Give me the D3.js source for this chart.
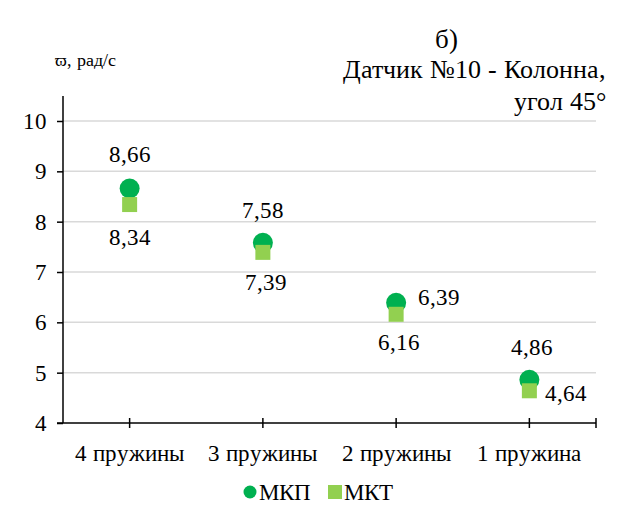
<!DOCTYPE html>
<html><head><meta charset="utf-8">
<script src="https://cdn.jsdelivr.net/npm/d3@7"></script>
<style>
@font-face{font-family:"ChartSerif";src:local("Liberation Serif"),local("LiberationSerif"),local("Tinos");}
</style>
</head><body style="margin:0;background:#fff"><svg id="c" width="617" height="509" style="display:block"></svg>
<script>
const categories = ["4 пружины","3 пружины","2 пружины","1 пружина"];
const mkp = [8.66, 7.58, 6.39, 4.86];
const mkt = [8.34, 7.39, 6.16, 4.64];
const yTicks = [4,5,6,7,8,9,10];
const seriesNames = ["МКП","МКТ"];
// label placement per point: [dx, dy baseline] relative to marker (layout only)
const mkpLab = [[0,-26],[0,-25],[43,2],[3,-25]];
const mktLab = [[0,40],[3,38],[3,36],[37,10]];

const svg = d3.select("#c");
const L=63, R=596, T=121, B=423;
const x = d3.scalePoint().domain(categories).range([L,R]).padding(0.5);
const y = d3.scaleLinear().domain([4,10]).range([B,T]);
const fmt = v => d3.format(".2f")(v).replace(".",",");
const FF = '"ChartSerif", "Liberation Serif", Tinos, serif';

function txt(parent, x0, y0, size, s, anchor){
  return parent.append("text").attr("x",x0).attr("y",y0).attr("font-size",size)
    .attr("text-anchor",anchor||"start").attr("font-family",FF).style("font-family",FF).attr("fill","#000").text(s);
}

// gridlines
svg.append("g").selectAll("line").data(yTicks.slice(1)).join("line")
  .attr("x1",L).attr("x2",R).attr("y1",d=>y(d)).attr("y2",d=>y(d))
  .attr("stroke","#d9d9d9").attr("stroke-width",1.5);

// y axis
const ya = svg.append("g").attr("transform",`translate(${L},0)`)
  .call(d3.axisLeft(y).tickValues(yTicks).tickSize(6).tickPadding(10).tickFormat(d3.format("d")));
ya.attr("font-family",FF);
ya.select(".domain").attr("stroke","#000").attr("stroke-width",1.5).attr("d",`M0,${T-25}V${B}`);
ya.selectAll(".tick line").attr("stroke","#000").attr("stroke-width",1.5);
ya.selectAll("text").attr("font-size",23).style("font-family",FF);

// x axis
const xa = svg.append("g").attr("transform",`translate(0,${B})`);
xa.append("line").attr("x1",L-6).attr("x2",R).attr("stroke","#000").attr("stroke-width",1.5);
const tickXs = categories.map(c=>x(c)).concat([R]);
xa.selectAll("line.t").data(tickXs).join("line").attr("class","t")
  .attr("x1",d=>d).attr("x2",d=>d).attr("y1",-5).attr("y2",5)
  .attr("stroke","#000").attr("stroke-width",1.5);
categories.forEach(c => txt(xa, x(c), 38, 23, c, "middle"));

// markers
svg.append("g").selectAll("circle").data(mkp).join("circle")
  .attr("cx",(d,i)=>x(categories[i])).attr("cy",d=>y(d)).attr("r",10).attr("fill","#00b050");
svg.append("g").selectAll("rect").data(mkt).join("rect")
  .attr("x",(d,i)=>x(categories[i])-7.5).attr("y",d=>y(d)-7.5).attr("width",15).attr("height",15).attr("fill","#92d050");

// labels
const lab = svg.append("g");
mkp.forEach((v,i)=>txt(lab, x(categories[i])+mkpLab[i][0], y(v)+mkpLab[i][1], 23, fmt(v), "middle"));
mkt.forEach((v,i)=>txt(lab, x(categories[i])+mktLab[i][0], y(v)+mktLab[i][1], 23, fmt(v), "middle"));

// titles
txt(svg, 446, 48, 27, "б)", "middle");
txt(svg, 606, 78, 26, "Датчик №10 - Колонна,", "end");
txt(svg, 606, 110, 26, "угол 45°", "end");
txt(svg, 55, 66, 18, "ϖ, рад/с");

// legend
const lg = svg.append("g");
lg.append("circle").attr("cx",250).attr("cy",492).attr("r",6.5).attr("fill","#00b050");
txt(lg, 259, 500, 23, seriesNames[0]);
lg.append("rect").attr("x",328).attr("y",485).attr("width",14).attr("height",14).attr("fill","#92d050");
txt(lg, 344, 500, 23, seriesNames[1]);
</script></body></html>
